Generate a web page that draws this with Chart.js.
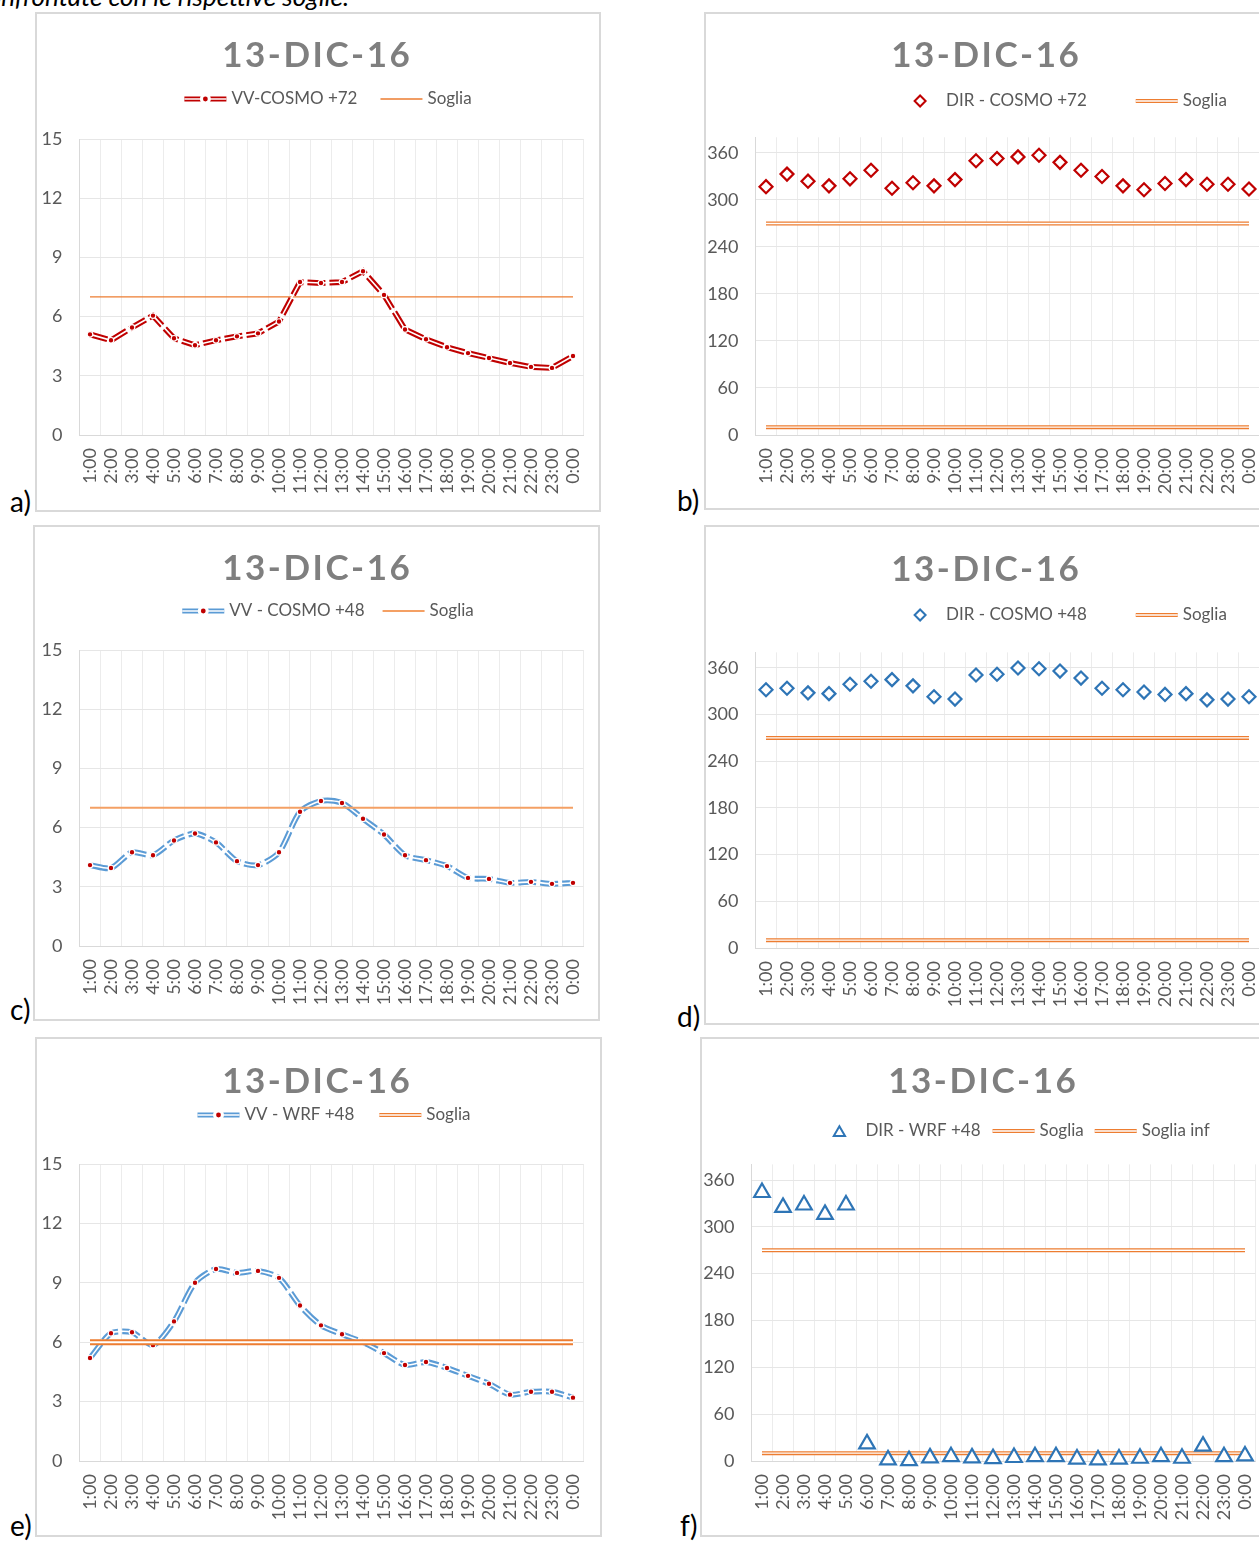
<!DOCTYPE html>
<html>
<head>
<meta charset="utf-8">
<script src="https://cdn.jsdelivr.net/npm/chart.js@4.4.1/dist/chart.umd.min.js"></script>
<style>
  html, body { margin: 0; padding: 0; background: #fff; }
  body { width: 1259px; height: 1542px; position: relative; overflow: hidden; font-family: Lato, "Open Sans", sans-serif; }
  .frame { position: absolute; box-sizing: border-box; border: 2px solid #d9d9d9; background: #fff; }
  canvas { position: absolute; }
  .tag { position: absolute; font-family: Lato, sans-serif; font-size: 28px; line-height: 1.2; color: #000; white-space: nowrap; }
  .caption { position: absolute; right: 910px; top: -19px; font-family: Lato, sans-serif; font-style: italic; font-size: 26px; line-height: 1.2; color: #000; white-space: nowrap; }
</style>
</head>
<body>
<div class="caption">confrontate con le rispettive soglie.</div>
<script>
// ---- data -------------------------------------------------------------
const hours = ['1:00','2:00','3:00','4:00','5:00','6:00','7:00','8:00','9:00','10:00','11:00','12:00',
               '13:00','14:00','15:00','16:00','17:00','18:00','19:00','20:00','21:00','22:00','23:00','0:00'];

// wind speed (m/s)
const vvCosmo72 = [5.1, 4.8, 5.45, 6.05, 4.9, 4.55, 4.8, 5.0, 5.15, 5.75, 7.75, 7.7,
                   7.75, 8.3, 7.1, 5.35, 4.85, 4.45, 4.15, 3.9, 3.65, 3.45, 3.4, 4.0];
const vvCosmo48 = [4.1, 3.95, 4.75, 4.6, 5.35, 5.7, 5.25, 4.3, 4.1, 4.75, 6.8, 7.35,
                   7.25, 6.45, 5.65, 4.6, 4.35, 4.05, 3.45, 3.4, 3.2, 3.25, 3.15, 3.2];
const vvWrf48   = [5.2, 6.45, 6.5, 5.85, 7.05, 9.0, 9.7, 9.5, 9.6, 9.25, 7.85, 6.85,
                   6.4, 6.0, 5.45, 4.85, 5.0, 4.7, 4.3, 3.9, 3.35, 3.5, 3.5, 3.2];

// wind direction (degrees)
const dirCosmo72 = [317, 333, 324, 318, 327, 338, 315, 322, 318, 326, 350, 353,
                    355, 357, 348, 338, 330, 318, 313, 321, 326, 320, 320, 314];
const dirCosmo48 = [332, 334, 328, 327, 339, 343, 345, 337, 323, 320, 351, 352,
                    360, 359, 356, 347, 334, 332, 329, 326, 327, 319, 320, 323];
const dirWrf48   = [344, 325, 328, 316, 328, 22, 1.5, 0.5, 4, 5.5, 4, 3,
                    4.5, 5.5, 5.5, 2.5, 1.5, 2.5, 3.5, 5.5, 3.5, 19, 5.5, 6.5];

// thresholds
const sogliaVV7  = [7,7,7,7,7,7,7,7,7,7,7,7,7,7,7,7,7,7,7,7,7,7,7,7];
const sogliaVV6  = [6,6,6,6,6,6,6,6,6,6,6,6,6,6,6,6,6,6,6,6,6,6,6,6];
const sogliaDir    = [270,270,270,270,270,270,270,270,270,270,270,270,270,270,270,270,270,270,270,270,270,270,270,270];
const sogliaDirInf = [10,10,10,10,10,10,10,10,10,10,10,10,10,10,10,10,10,10,10,10,10,10,10,10];

// axis ticks
const yTicksVV  = [0, 3, 6, 9, 12, 15];
const yTicksDir = [0, 60, 120, 180, 240, 300, 360];

// ---- styles -----------------------------------------------------------
const FONT = 'Lato, "Open Sans", sans-serif';
const RED = '#c00000';
const BLUE_LINE = '#5b9bd5';
const BLUE_MARK = '#2e75b6';
const ORANGE = '#ed7d31';
const ORANGE_LIGHT = '#f4a064';
const TEXT = '#595959';

// ---- dataset builders -------------------------------------------------
function speedSeries(label, data, color, tension, order) {
  return [
    { // white core of the double stroke, carries the markers
      label: '', data, borderColor: '#ffffff', borderWidth: 1.6, tension,
      pointRadius: 2.8, pointBackgroundColor: RED, pointBorderColor: '#ffffff', pointBorderWidth: 1.2,
      order: order, clip: false
    },
    { // coloured outer stroke
      label, data, borderColor: color, borderWidth: 5.8, borderDash: [18, 4], tension,
      pointRadius: 0, order: order + 1, clip: false,
      legendSym: 'vv', legendMarker: RED
    }
  ];
}
function thinLimit(label, data, color, width, order) {
  return [{ label, data, borderColor: color, borderWidth: width, pointRadius: 0, order, clip: false, legendSym: 'thin' }];
}
function doubleLimit(label, data, outer, inner, order, inLegend) {
  return [
    { label: '', data, borderColor: '#ffffff', borderWidth: inner, pointRadius: 0, order, clip: false },
    { label, data, borderColor: ORANGE, borderWidth: outer, pointRadius: 0, order: order + 1, clip: false,
      legendSym: inLegend ? 'double' : null }
  ];
}
function dirSeries(label, data, color, style, radius, order) {
  return [{
    label, data, showLine: false, pointStyle: style, pointRadius: radius,
    pointBorderWidth: 2.2, pointBorderColor: color, pointBackgroundColor: '#ffffff',
    borderColor: color, order, clip: false, legendSym: style === 'triangle' ? 'triangle' : 'diamond'
  }];
}

// ---- title + legend drawn on the chart canvas -------------------------
function drawLegendSymbol(ctx, d, x, y, w) {
  const cx = x + w / 2;
  ctx.save();
  ctx.lineCap = 'butt';
  const hline = () => { ctx.beginPath(); ctx.moveTo(x, y); ctx.lineTo(x + w, y); ctx.stroke(); };
  if (d.legendSym === 'vv') {
    ctx.strokeStyle = d.borderColor; ctx.lineWidth = 5; hline();
    ctx.strokeStyle = '#ffffff'; ctx.lineWidth = 1.5; hline();
    ctx.fillStyle = '#ffffff'; ctx.beginPath(); ctx.arc(cx, y, 5.5, 0, Math.PI * 2); ctx.fill();
    ctx.fillStyle = d.legendMarker; ctx.beginPath(); ctx.arc(cx, y, 2.4, 0, Math.PI * 2); ctx.fill();
  } else if (d.legendSym === 'thin') {
    ctx.strokeStyle = d.borderColor; ctx.lineWidth = d.borderWidth; hline();
  } else if (d.legendSym === 'double') {
    ctx.strokeStyle = ORANGE; ctx.lineWidth = 4.2; hline();
    ctx.strokeStyle = '#ffffff'; ctx.lineWidth = 1.6; hline();
  } else if (d.legendSym === 'diamond') {
    const r = 5.5;
    ctx.beginPath(); ctx.moveTo(cx, y - r); ctx.lineTo(cx + r, y); ctx.lineTo(cx, y + r); ctx.lineTo(cx - r, y); ctx.closePath();
    ctx.fillStyle = '#ffffff'; ctx.fill();
    ctx.strokeStyle = d.pointBorderColor; ctx.lineWidth = 2; ctx.stroke();
  } else if (d.legendSym === 'triangle') {
    const r = 6.5, cy = y + r / 4;
    ctx.beginPath();
    ctx.moveTo(cx, cy - r);
    ctx.lineTo(cx + r * Math.sin(Math.PI * 2 / 3), cy + r / 2);
    ctx.lineTo(cx - r * Math.sin(Math.PI * 2 / 3), cy + r / 2);
    ctx.closePath();
    ctx.fillStyle = '#ffffff'; ctx.fill();
    ctx.strokeStyle = d.pointBorderColor; ctx.lineWidth = 2; ctx.stroke();
  }
  ctx.restore();
}

const panelHeader = {
  id: 'panelHeader',
  afterDraw(chart, args, o) {
    const ctx = chart.ctx;
    // title
    ctx.save();
    ctx.font = 'bold ' + o.titleSize + 'px ' + FONT;
    ctx.fillStyle = '#7f7f7f';
    ctx.textAlign = 'center';
    ctx.textBaseline = 'alphabetic';
    ctx.letterSpacing = o.titleSpacing + 'px';
    ctx.fillText(o.title, o.titleX + o.titleSpacing / 2, o.titleY);
    ctx.restore();
    // legend
    const items = chart.data.datasets.filter(d => d.legendSym);
    ctx.save();
    ctx.font = o.legendSize + 'px ' + FONT;
    const symW = 42, textGap = 5;
    const widths = items.map(d => ctx.measureText(d.label).width);
    let total = 0;
    items.forEach((d, i) => { total += symW + textGap + widths[i] + (i < items.length - 1 ? o.legendGaps[i] : 0); });
    let x = o.legendX - total / 2;
    items.forEach((d, i) => {
      drawLegendSymbol(ctx, d, x, o.legendY, symW);
      x += symW + textGap;
      ctx.fillStyle = TEXT;
      ctx.textAlign = 'left';
      ctx.textBaseline = 'middle';
      ctx.fillText(d.label, x, o.legendY);
      x += widths[i] + (i < items.length - 1 ? o.legendGaps[i] : 0);
    });
    ctx.restore();
  }
};

// ---- panels -----------------------------------------------------------
// box = frame [left, top, width, height]; the drawing canvas is a little wider
// than the frame so the last rotated hour label never squeezes the plot area.
const panels = [
  { tag: 'a)', tagPos: [10, 513], kind: 'vv', box: [35, 12, 566, 500], plot: { l: 79.5, r: 583.5, t: 139, b: 435 },
    title: [316, 67], legend: [328, 99, [23]],
    datasets: [...speedSeries('VV-COSMO +72', vvCosmo72, RED, 0, 0), ...thinLimit('Soglia', sogliaVV7, ORANGE, 1.3, 5)] },
  { tag: 'b)', tagPos: [677, 512], kind: 'dir', box: [704, 12, 600, 498], plot: { l: 755.5, r: 1259.5, t: 137.3, b: 435 },
    title: [985, 67], legend: [1063, 101, [49]],
    datasets: [...dirSeries('DIR - COSMO +72', dirCosmo72, RED, 'rectRot', 6.5, 0),
               ...doubleLimit('Soglia', sogliaDir, 4, 1.3, 2, true),
               ...doubleLimit('Soglia inf', sogliaDirInf, 4, 1.3, 4, false)] },
  { tag: 'c)', tagPos: [10, 1021], kind: 'vv', box: [33, 525, 567, 496], plot: { l: 79.5, r: 583.5, t: 650, b: 946 },
    title: [316, 580], legend: [328, 611, [18]],
    datasets: [...speedSeries('VV - COSMO +48', vvCosmo48, BLUE_LINE, 0.25, 2), ...thinLimit('Soglia', sogliaVV7, ORANGE_LIGHT, 2, 0)] },
  { tag: 'd)', tagPos: [677, 1028], kind: 'dir', box: [704, 525, 600, 500], plot: { l: 755.5, r: 1259.5, t: 652.4, b: 948 },
    title: [985, 581], legend: [1063, 615, [49]],
    datasets: [...dirSeries('DIR - COSMO +48', dirCosmo48, BLUE_MARK, 'rectRot', 6.5, 0),
               ...doubleLimit('Soglia', sogliaDir, 4, 1.3, 2, true),
               ...doubleLimit('Soglia inf', sogliaDirInf, 4, 1.3, 4, false)] },
  { tag: 'e)', tagPos: [10, 1537], kind: 'vv', box: [35, 1037, 567, 500], plot: { l: 79.5, r: 583.5, t: 1164, b: 1461 },
    title: [316, 1093], legend: [334, 1115, [25]],
    datasets: [...speedSeries('VV - WRF +48', vvWrf48, BLUE_LINE, 0.25, 2), ...doubleLimit('Soglia', sogliaVV6, 6, 2, 0, true)] },
  { tag: 'f)', tagPos: [680, 1537], kind: 'dir', box: [700, 1037, 600, 500], plot: { l: 751.5, r: 1255.5, t: 1164.4, b: 1461 },
    title: [982, 1093], legend: [1014, 1131, [12, 11]],
    datasets: [...dirSeries('DIR - WRF +48', dirWrf48, BLUE_MARK, 'triangle', 9, 0),
               ...doubleLimit('Soglia', sogliaDir, 4, 1.3, 2, true),
               ...doubleLimit('Soglia inf', sogliaDirInf, 4, 1.3, 4, true)] }
];

function buildPanel(p) {
  const [bx, by, bw, bh] = p.box;
  const frame = document.createElement('div');
  frame.className = 'frame';
  Object.assign(frame.style, { left: bx + 'px', top: by + 'px', width: bw + 'px', height: bh + 'px' });
  document.body.appendChild(frame);

  const cw = Math.max(bw, Math.ceil(p.plot.r - bx) + 50);
  const canvas = document.createElement('canvas');
  canvas.width = cw; canvas.height = bh;
  Object.assign(canvas.style, { left: bx + 'px', top: by + 'px', width: cw + 'px', height: bh + 'px' });
  document.body.appendChild(canvas);

  const tag = document.createElement('div');
  tag.className = 'tag';
  tag.textContent = p.tag;
  Object.assign(tag.style, { left: p.tagPos[0] + 'px', top: (p.tagPos[1] - 28 * 0.987) + 'px' });
  document.body.appendChild(tag);

  const yWidth = p.plot.l - bx;
  const xHeight = (by + bh) - p.plot.b;
  const tickFont = { family: FONT, size: 18 };
  const yTicks = p.kind === 'vv' ? yTicksVV : yTicksDir;

  new Chart(canvas, {
    type: 'line',
    data: { labels: hours, datasets: p.datasets },
    plugins: [panelHeader],
    options: {
      responsive: false,
      animation: false,
      events: [],
      devicePixelRatio: 1,
      layout: { padding: { top: p.plot.t - by, left: 0, right: (bx + cw) - p.plot.r, bottom: 0 } },
      scales: {
        x: {
          type: 'category',
          offset: true,
          grid: { offset: true, color: '#ececec', lineWidth: 1, drawTicks: false },
          border: { color: '#d9d9d9', width: 1 },
          ticks: { color: TEXT, font: tickFont, minRotation: 90, maxRotation: 90, padding: 13, autoSkip: false },
          afterFit(s) { s.height = xHeight; }
        },
        y: {
          min: 0,
          max: p.kind === 'vv' ? 15 : 380,
          grid: { color: '#e6e6e6', lineWidth: 1, drawTicks: false },
          border: { display: true, color: '#d9d9d9', width: 1 },
          ticks: { color: TEXT, font: tickFont, padding: 17 },
          afterBuildTicks(s) { s.ticks = yTicks.map(v => ({ value: v })); },
          afterFit(s) { s.width = yWidth; }
        }
      },
      plugins: {
        legend: { display: false },
        title: { display: false },
        tooltip: { enabled: false },
        panelHeader: {
          title: '13-DIC-16', titleSize: 35, titleSpacing: 2.5,
          titleX: p.title[0] - bx, titleY: p.title[1] - by,
          legendSize: 17, legendX: p.legend[0] - bx, legendY: p.legend[1] - by, legendGaps: p.legend[2]
        }
      }
    }
  });
}

panels.forEach(buildPanel);
</script>
</body>
</html>
